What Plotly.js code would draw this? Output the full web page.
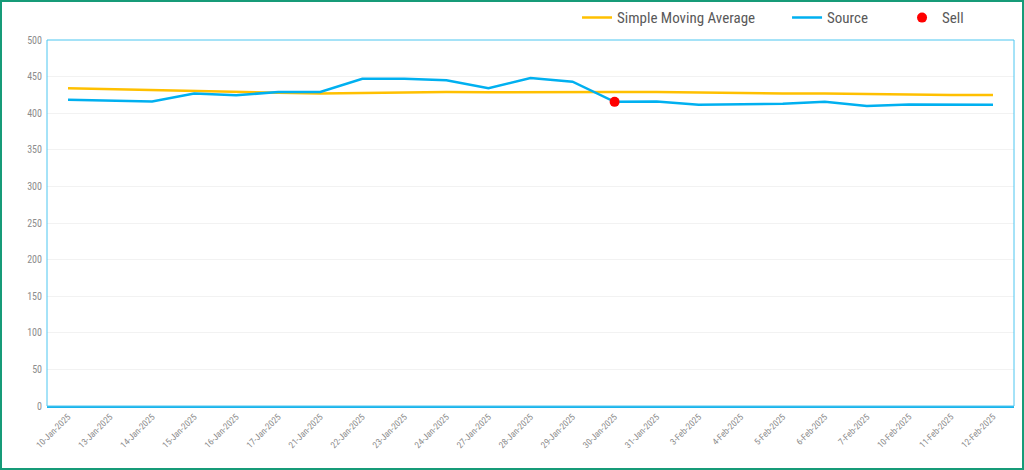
<!DOCTYPE html>
<html>
<head>
<meta charset="utf-8">
<script src="https://cdn.plot.ly/plotly-3.0.1.min.js"></script>
<style>
  html, body { margin: 0; padding: 0; background: #fff; }
  #wrap { position: relative; width: 1024px; height: 470px; }
  #chart { width: 1024px; height: 470px; }
  #frame { position: absolute; left: 0; top: 0; width: 1024px; height: 470px; box-sizing: border-box; border: 2px solid #169b78; pointer-events: none; }
</style>
</head>
<body>
<div id="wrap"><div id="chart"></div><div id="frame"></div></div>
<script>
const dates = ["10-Jan-2025","13-Jan-2025","14-Jan-2025","15-Jan-2025","16-Jan-2025","17-Jan-2025","21-Jan-2025","22-Jan-2025","23-Jan-2025","24-Jan-2025","27-Jan-2025","28-Jan-2025","29-Jan-2025","30-Jan-2025","31-Jan-2025","3-Feb-2025","4-Feb-2025","5-Feb-2025","6-Feb-2025","7-Feb-2025","10-Feb-2025","11-Feb-2025","12-Feb-2025"];
const source = [418.5,417,416,427,424.5,429,429,447,447,445,434,448,443,415.5,416,411.5,412,413,415.5,410,412,411.5,411.5];
const sma = [434,433,431,430,429,428,427,428,428,429,428.5,429,429,429,429,428,428,427,427,426,426,425,425];
const sellDates = ["30-Jan-2025"];
const sellValues = [415.5];
const yTicks = [0,50,100,150,200,250,300,350,400,450,500];

const font = "'Liberation Sans Narrow', 'Roboto Condensed', Roboto, Arial, sans-serif";

const traces = [
  {x: dates, y: sma, type: 'scatter', mode: 'lines', name: 'Simple Moving Average',
   line: {color: '#ffc000', width: 2.5}, legend: 'legend'},
  {x: dates, y: source, type: 'scatter', mode: 'lines', name: 'Source',
   line: {color: '#00b0f0', width: 2.5}, legend: 'legend2'},
  {x: sellDates, y: sellValues, type: 'scatter', mode: 'markers', name: 'Sell',
   marker: {color: '#ff0000', size: 10}, legend: 'legend3'}
];

function legendAt(x) {
  return {orientation: 'h', xref: 'container', yref: 'container',
          x: x, xanchor: 'left', y: 0.962, yanchor: 'middle',
          font: {family: font, size: 15, color: '#595959'}, bgcolor: 'rgba(0,0,0,0)'};
}

const layout = {
  width: 1024, height: 470,
  margin: {l: 47, r: 10, t: 40, b: 64},
  paper_bgcolor: '#ffffff', plot_bgcolor: '#ffffff',
  font: {family: font, color: '#8c8c8c'},
  showlegend: true,
  legend: legendAt(0.5635),
  legend2: legendAt(0.7686),
  legend3: legendAt(0.8809),
  xaxis: {type: 'category', categoryorder: 'array', categoryarray: dates,
          range: [-0.5, dates.length - 0.5], tickangle: -45,
          tickfont: {size: 9, color: '#8c8c8c'}, showgrid: false, zeroline: false,
          showline: true, linecolor: '#1ab4ec', linewidth: 2, ticks: '', fixedrange: true},
  yaxis: {range: [0, 500], tickvals: yTicks, ticktext: yTicks.map(String),
          tickfont: {size: 10, color: '#8c8c8c'}, showgrid: true, gridcolor: '#f2f2f2', gridwidth: 1,
          zeroline: false, showline: false, ticks: '', ticklabelstandoff: 4, fixedrange: true},
  shapes: [
    {type: 'rect', xref: 'paper', yref: 'paper', x0: 0, x1: 1, y0: 0, y1: 1,
     line: {color: '#4cc6f0', width: 1}, layer: 'above'}
  ]
};

Plotly.newPlot('chart', traces, layout, {displayModeBar: false, staticPlot: true});
</script>
</body>
</html>
